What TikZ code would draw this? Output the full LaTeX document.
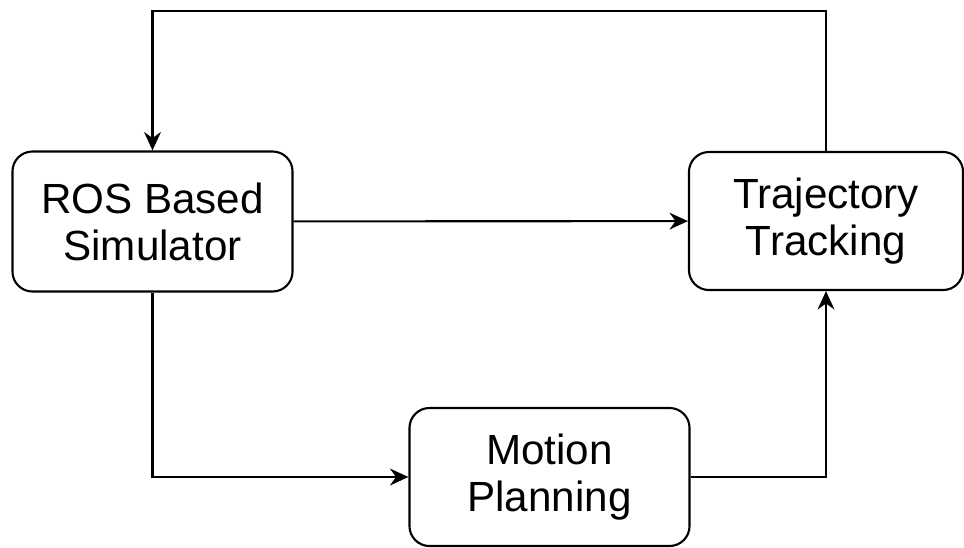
\documentclass[tikz,border=0pt]{standalone}
\usepackage{fontspec}
\setmainfont{Liberation Sans}
\usetikzlibrary{
	arrows.meta,
	positioning
}

\begin{document}
\begin{tikzpicture}[
  x=0.025cm, y=-0.025cm,
  bloque/.style={rectangle, draw, rounded corners=0.5cm, line width=1.5pt,
    align=center, minimum width=7.0cm, minimum height=3.5cm, inner sep=0pt,
    font=\fontsize{30}{33.5}\selectfont},
  flecha/.style={-{Stealth[length=4.6mm, width=4.2mm, inset=1.5mm]}, line width=1.5pt}
]
\useasboundingbox (0,0) rectangle (964,547);
\node[bloque] (simulador) at (152.5,221.5) {ROS Based\\Simulator};
\node[bloque, minimum width=6.85cm, minimum height=3.45cm] (seguimiento) at (826,221) {Trajectory\\Tracking};
\node[bloque, minimum height=3.45cm] (planificacion) at (549.5,477) {Motion\\Planning};
\coordinate (arriba) at (490,11);
\draw[flecha] (simulador) -- (seguimiento);
\draw[flecha] (seguimiento.north) |- (arriba) -| (simulador.north);
\draw[flecha] (simulador.south) |- (planificacion.west);
\draw[flecha] (planificacion.east) -| (seguimiento.south);
\end{tikzpicture}
\end{document}
